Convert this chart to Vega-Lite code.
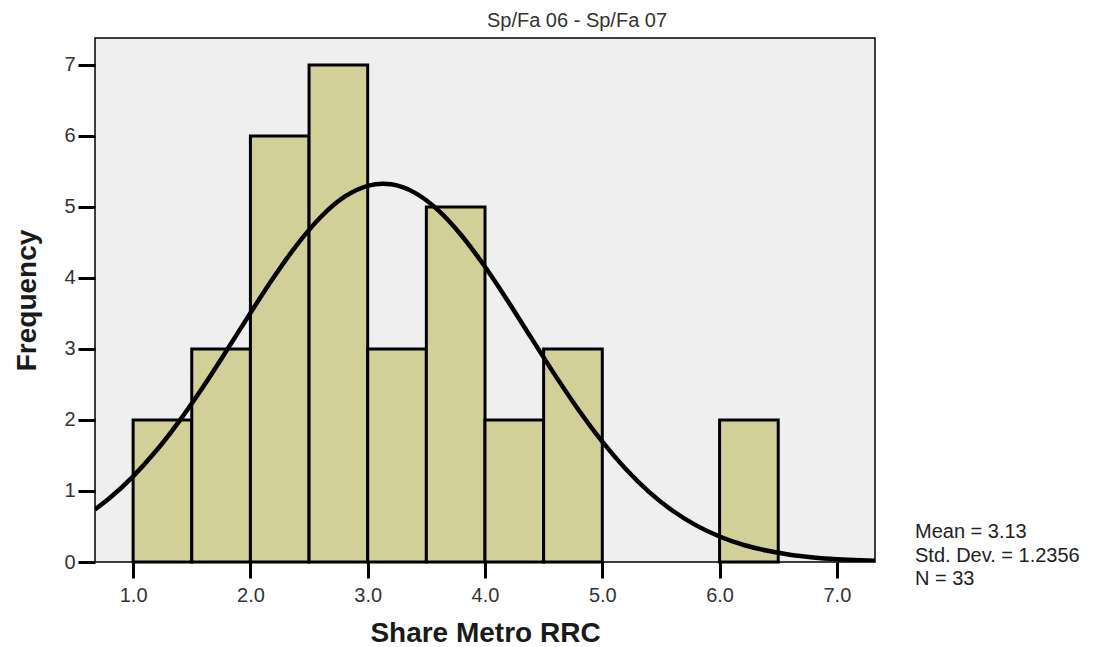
{
  "$schema": "https://vega.github.io/schema/vega-lite/v6.json",
  "width": 780,
  "height": 524,
  "autosize": {"type": "none"},
  "padding": {"left": 95, "top": 38, "right": 219, "bottom": 85},
  "background": "white",
  "config": {
    "font": "Liberation Sans",
    "view": {"fill": "#efefef", "stroke": "black", "strokeWidth": 1.5},
    "axis": {"grid": false, "domain": false, "tickColor": "black", "tickWidth": 3, "tickSize": 17, "labelFont": "Liberation Sans", "labelFontSize": 20, "labelColor": "#333333", "titleFont": "Liberation Sans", "titleFontSize": 28, "titleFontWeight": "bold", "titleColor": "#1a1a1a"}
  },
  "title": {"text": "Sp/Fa 06 - Sp/Fa 07", "fontSize": 20, "fontWeight": "normal", "color": "#333333", "font": "Liberation Sans", "anchor": "middle", "dx": 92, "offset": 7},
  "datasets": {
    "bins": [
      {"lo": 1.0, "hi": 1.5, "count": 2},
      {"lo": 1.5, "hi": 2.0, "count": 3},
      {"lo": 2.0, "hi": 2.5, "count": 6},
      {"lo": 2.5, "hi": 3.0, "count": 7},
      {"lo": 3.0, "hi": 3.5, "count": 3},
      {"lo": 3.5, "hi": 4.0, "count": 5},
      {"lo": 4.0, "hi": 4.5, "count": 2},
      {"lo": 4.5, "hi": 5.0, "count": 3},
      {"lo": 6.0, "hi": 6.5, "count": 2}
    ],
    "curve": [
      {"x": 0.675, "y": 0.740}, {"x": 0.8, "y": 0.900}, {"x": 1.0, "y": 1.206}, {"x": 1.2, "y": 1.573},
      {"x": 1.4, "y": 1.999}, {"x": 1.6, "y": 2.475}, {"x": 1.8, "y": 2.985}, {"x": 2.0, "y": 3.507},
      {"x": 2.2, "y": 4.013}, {"x": 2.4, "y": 4.474}, {"x": 2.6, "y": 4.859}, {"x": 2.8, "y": 5.141},
      {"x": 3.0, "y": 5.298}, {"x": 3.13, "y": 5.327}, {"x": 3.2, "y": 5.319}, {"x": 3.4, "y": 5.202},
      {"x": 3.6, "y": 4.956}, {"x": 3.8, "y": 4.599}, {"x": 4.0, "y": 4.158}, {"x": 4.2, "y": 3.662},
      {"x": 4.4, "y": 3.142}, {"x": 4.6, "y": 2.625}, {"x": 4.8, "y": 2.137}, {"x": 5.0, "y": 1.695},
      {"x": 5.2, "y": 1.310}, {"x": 5.4, "y": 0.985}, {"x": 5.6, "y": 0.722}, {"x": 5.8, "y": 0.516},
      {"x": 6.0, "y": 0.359}, {"x": 6.2, "y": 0.243}, {"x": 6.4, "y": 0.161}, {"x": 6.6, "y": 0.103},
      {"x": 6.8, "y": 0.0647}, {"x": 7.0, "y": 0.0395}, {"x": 7.2, "y": 0.0234}, {"x": 7.325, "y": 0.0167}
    ],
    "stats": [{"label": ["Mean = 3.13", "Std. Dev. = 1.2356", "N = 33"]}]
  },
  "layer": [
    {
      "data": {"name": "bins"},
      "mark": {"type": "rect", "fill": "#d3cf98", "stroke": "black", "strokeWidth": 3},
      "encoding": {
        "x": {"field": "lo", "type": "quantitative", "scale": {"domain": [0.675, 7.325], "nice": false, "zero": false},
              "axis": {"values": [1, 2, 3, 4, 5, 6, 7], "format": ".1f", "tickSize": 16, "labelPadding": 7, "title": "Share Metro RRC", "titlePadding": 14}},
        "x2": {"field": "hi"},
        "y": {"field": "count", "type": "quantitative", "scale": {"domain": [0, 7.38], "nice": false},
              "axis": {"values": [0, 1, 2, 3, 4, 5, 6, 7], "format": "d", "tickSize": 17, "labelPadding": 3, "title": "Frequency", "titlePadding": 22}},
        "y2": {"datum": 0}
      }
    },
    {
      "data": {"name": "curve"},
      "mark": {"type": "line", "color": "black", "strokeWidth": 4.5, "interpolate": "monotone", "clip": true},
      "encoding": {
        "x": {"field": "x", "type": "quantitative"},
        "y": {"field": "y", "type": "quantitative"}
      }
    },
    {
      "data": {"name": "stats"},
      "mark": {"type": "text", "align": "left", "baseline": "alphabetic", "fontSize": 20, "lineHeight": 23.5, "color": "#222222", "font": "Liberation Sans", "clip": false},
      "encoding": {
        "x": {"datum": 7.666, "type": "quantitative"},
        "y": {"datum": 0.338, "type": "quantitative"},
        "text": {"field": "label"}
      }
    }
  ]
}
